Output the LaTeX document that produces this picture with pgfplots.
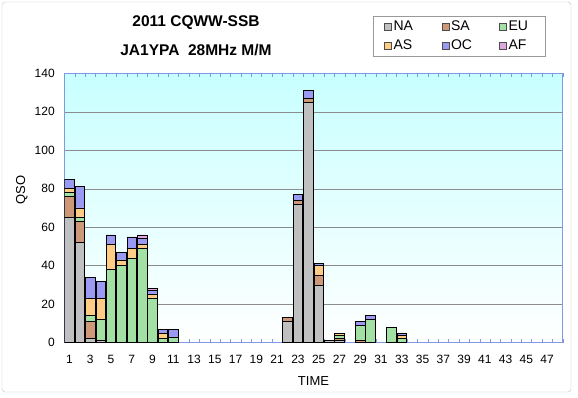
\documentclass[border=0pt]{standalone}
\usepackage{pgfplots}
\usepackage{pgfplotstable}
\pgfplotsset{compat=1.18}
\usepackage{fontspec}
\setmainfont{Liberation Sans}
\definecolor{cNA}{HTML}{C0C0C0}
\definecolor{cSA}{HTML}{CC9878}
\definecolor{cEU}{HTML}{A3E0A3}
\definecolor{cAS}{HTML}{FFCC85}
\definecolor{cOC}{HTML}{9A9AF2}
\definecolor{cAF}{HTML}{E0A8E0}
\definecolor{framecol}{HTML}{7F99E6}
\definecolor{bgtop}{HTML}{C8FFFF}
\pgfplotstableread{
h NA SA EU AS OC AF
1 65 11 2 2 5 0
2 52 11 2 5 11 0
3 2 9 3 9 11 0
4 1 0 11 11 9 0
5 0 0 38 13 5 0
6 0 0 40 3 4 0
7 0 0 44 5 6 0
8 0 0 49 2 3 2
9 0 0 23 2 2 1
10 0 0 2 3 2 0
11 0 0 3 0 4 0
22 11 2 0 0 0 0
23 72 2 0 0 3 0
24 125 2 0 0 4 0
25 30 5 0 5 1 0
26 1 0 0 0 0 0
27 1 1 2 1 0 0
29 0 1 8 0 2 0
30 0 0 12 0 2 0
32 0 0 8 0 0 0
33 0 0 2 2 1 0
}\qso
\begin{document}
\begin{tikzpicture}
\path[use as bounding box] (0pt,0pt) rectangle (578pt,398pt);
\draw[black!25, rounded corners=3pt] (2pt,6pt) rectangle (571pt,396pt);
\begin{axis}[
  at={(64.3pt,55.3pt)}, anchor=south west,
  scale only axis, width=498.4pt, height=269.4pt,
  ybar stacked, bar width=0.92,
  xmin=0.5, xmax=48.5, ymin=0, ymax=140,
  xtick={1,3,...,47},
  minor xtick={0.5,1.5,...,48.5},
  ytick={0,20,...,140},
  major tick length=0pt, minor tick length=3.5pt,
  tick align=inside,
  every minor tick/.append style={framecol},
  ymajorgrids,
  major grid style={black!45, line width=0.5pt},
  axis line style={framecol, line width=0.8pt},
  axis background/.style={shade, top color=bgtop, bottom color=white},
  /pgf/number format/assume math mode=true,
  ticklabel style={font=\fontsize{12}{13}\selectfont},
  yticklabel style={xshift=-6pt},
  xticklabel style={yshift=-9pt},
  xlabel={TIME}, ylabel={QSO},
  label style={font=\fontsize{13}{14}\selectfont},
  xlabel style={at={(axis description cs:0.5,-0.142)}, anchor=center},
  ylabel style={at={(axis description cs:-0.085,0.567)}, anchor=center, rotate=0},
  legend columns=3,
  legend style={at={(axis description cs:0.619,1.2138)}, anchor=north west,
    draw=black!40, line width=0.5pt, font=\fontsize{14}{15}\selectfont,
    inner xsep=11pt, inner ysep=3pt, row sep=4pt},
  legend cell align=left,
  legend image code/.code={\draw[#1, draw=black!70, line width=0.5pt] (0pt,-3.5pt) rectangle (7pt,3.5pt);},
  every axis plot/.append style={draw=black, line width=0.7pt},
]
\addplot[fill=cNA] table[x=h, y=NA] {\qso};
\addplot[fill=cSA] table[x=h, y=SA] {\qso};
\addplot[fill=cEU] table[x=h, y=EU] {\qso};
\addplot[fill=cAS] table[x=h, y=AS] {\qso};
\addplot[fill=cOC] table[x=h, y=OC] {\qso};
\addplot[fill=cAF] table[x=h, y=AF] {\qso};
\addlegendentry{\makebox[46pt][l]{NA}}
\addlegendentry{\makebox[46pt][l]{SA}}
\addlegendentry{\makebox[24pt][l]{EU}}
\addlegendentry{\makebox[46pt][l]{AS}}
\addlegendentry{\makebox[46pt][l]{OC}}
\addlegendentry{\makebox[24pt][l]{AF}}
\end{axis}
\node[font=\fontsize{15.5}{17}\selectfont\bfseries] at (196pt,375pt) {2011 CQWW-SSB};
\node[font=\fontsize{15.5}{17}\selectfont\bfseries] at (196pt,348pt) {JA1YPA\ \ 28MHz M/M};
\end{tikzpicture}
\end{document}
